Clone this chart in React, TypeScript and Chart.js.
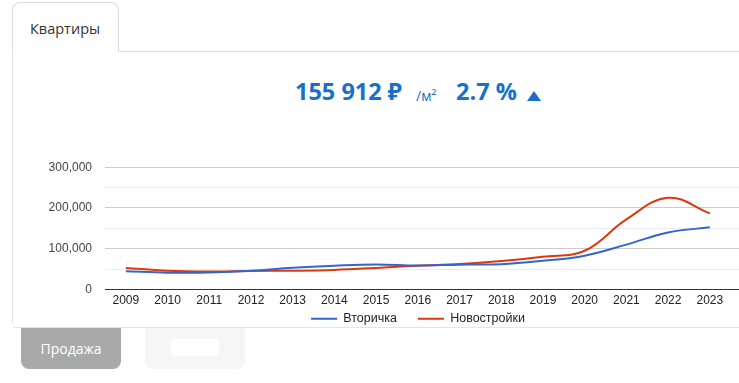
import React, { useEffect, useRef } from "react";
import { Chart, registerables } from "chart.js";

Chart.register(...registerables);

const years = [2009, 2010, 2011, 2012, 2013, 2014, 2015, 2016, 2017, 2018, 2019, 2020, 2021, 2022, 2023];
const secondary = [45000, 41000, 42000, 46000, 53500, 58500, 61500, 59000, 61000, 62000, 70500, 83000, 110000, 140000, 152500];
const newBuild = [53000, 46000, 44000, 45500, 46000, 48000, 53000, 58500, 62500, 70000, 80500, 95000, 172000, 225000, 187000];
const seriesNames = ["Вторичка", "Новостройки"];
const seriesColors = ["#3366cc", "#dc3912"];
const yTicks = [0, 100000, 200000, 300000];

const BLUE = "#1a70c8";
const FONT = "'Open Sans', 'Noto Sans', sans-serif";
const CHART_FONT = "Arial, 'Liberation Sans', sans-serif";

// moves the legend up so it sits right under the x-axis labels
const legendLift = {
  id: "legendLift",
  afterLayout(chart: any) {
    const lg = chart.legend;
    if (!lg) return;
    const up = 18;
    const leftShift = 4;
    lg.top -= up;
    lg.bottom -= up;
    lg.left -= leftShift;
    lg.right -= leftShift;
  },
};

function LineChart() {
  const ref = useRef<HTMLCanvasElement | null>(null);
  useEffect(() => {
    if (!ref.current) return;
    const mk = (vals: number[]) => vals.map((v, i) => ({ x: years[i], y: v }));
    const chart = new Chart(ref.current, {
      type: "line",
      data: {
        datasets: [
          {
            label: seriesNames[0],
            data: mk(secondary),
            borderColor: seriesColors[0],
            backgroundColor: seriesColors[0],
            borderWidth: 2,
            pointRadius: 0,
            tension: 0.4,
          },
          {
            label: seriesNames[1],
            data: mk(newBuild),
            borderColor: seriesColors[1],
            backgroundColor: seriesColors[1],
            borderWidth: 2,
            pointRadius: 0,
            tension: 0.4,
          },
        ],
      },
      plugins: [legendLift],
      options: {
        animation: false,
        responsive: true,
        maintainAspectRatio: false,
        layout: { padding: { top: 0, right: 0, left: 0, bottom: 0 } },
        plugins: {
          legend: {
            position: "bottom",
            fullSize: false,
            labels: {
              usePointStyle: true,
              pointStyle: "line",
              pointStyleWidth: 26,
              padding: 21,
              color: "#222",
              font: { family: CHART_FONT, size: 12.5 },
            },
          },
          tooltip: { enabled: false },
        },
        scales: {
          x: {
            type: "linear",
            min: years[0] - 0.5,
            max: years[years.length - 1] + 0.7,
            afterBuildTicks: (s: any) => {
              s.ticks = years.map((v) => ({ value: v }));
            },
            afterFit: (s: any) => {
              s.height = 20;
            },
            grid: { display: false, drawTicks: false },
            border: { display: true, color: "#333", width: 1 },
            ticks: {
              autoSkip: false,
              maxRotation: 0,
              padding: 4,
              color: "#222",
              font: { family: CHART_FONT, size: 12 },
              callback: (v: any) => String(v),
            },
          },
          y: {
            min: 0,
            max: yTicks[yTicks.length - 1],
            afterFit: (s: any) => {
              s.width = 93;
            },
            grid: {
              drawTicks: false,
              color: (c: any) => (c.tick && c.tick.value % 100000 === 0 ? "#cccccc" : "#ebebeb"),
            },
            border: { display: false },
            ticks: {
              stepSize: 50000,
              padding: 13,
              color: "#444",
              font: { family: CHART_FONT, size: 12 },
              callback: (v: any) => (yTicks.includes(v) ? Number(v).toLocaleString("en-US") : ""),
            },
          },
        },
      },
    });
    return () => chart.destroy();
  }, []);
  return (
    <div style={{ position: "absolute", left: 12, top: 147, width: 727, height: 206 }}>
      <canvas ref={ref} />
    </div>
  );
}

export default function App() {
  return (
    <div style={{ fontFamily: FONT }}>
      {/* tab */}
      <div
        style={{
          position: "absolute",
          left: 12,
          top: 2,
          width: 107,
          height: 50,
          border: "1px solid #dddddd",
          borderBottom: "none",
          borderRadius: "8px 8px 0 0",
          background: "#fff",
          boxSizing: "border-box",
        }}
      >
        <span style={{ position: "absolute", left: 17, top: 16, fontSize: 14.5, color: "#333" }}>Квартиры</span>
      </div>
      <div style={{ position: "absolute", left: 119, top: 51, width: 620, height: 1, background: "#dddddd" }} />
      <div style={{ position: "absolute", left: 12, top: 52, width: 1, height: 271, background: "#e5e5e5" }} />

      {/* headline */}
      <span style={{ position: "absolute", left: 295, top: 75, fontSize: 23.5, fontWeight: 700, color: BLUE, whiteSpace: "nowrap" }}>
        155 912 ₽
      </span>
      <span style={{ position: "absolute", left: 416, top: 86, fontSize: 14, color: BLUE, whiteSpace: "nowrap" }}>
        /м²
      </span>
      <span style={{ position: "absolute", left: 456, top: 75, fontSize: 23.5, fontWeight: 700, color: BLUE, whiteSpace: "nowrap" }}>
        2.7 %
      </span>
      <div
        style={{
          position: "absolute",
          left: 527,
          top: 91,
          width: 0,
          height: 0,
          borderLeft: "7px solid transparent",
          borderRight: "7px solid transparent",
          borderBottom: "10px solid " + BLUE,
        }}
      />

      <LineChart />

      <div style={{ position: "absolute", left: 13, top: 327, width: 726, height: 1, background: "#e5e5e5" }} />

      {/* buttons */}
      <div
        style={{
          position: "absolute",
          left: 21,
          top: 328,
          width: 100,
          height: 41,
          background: "#a9a9a9",
          borderRadius: "0 0 8px 8px",
          color: "#fff",
          fontSize: 14,
          display: "flex",
          alignItems: "center",
          justifyContent: "center",
        }}
      >
        Продажа
      </div>
      <div
        style={{
          position: "absolute",
          left: 145,
          top: 328,
          width: 100,
          height: 41,
          background: "#f6f6f6",
          borderRadius: "0 0 8px 8px",
        }}
      >
        <div style={{ position: "absolute", left: 26, top: 11, width: 48, height: 17, background: "#fff", borderRadius: 4 }} />
      </div>
    </div>
  );
}
